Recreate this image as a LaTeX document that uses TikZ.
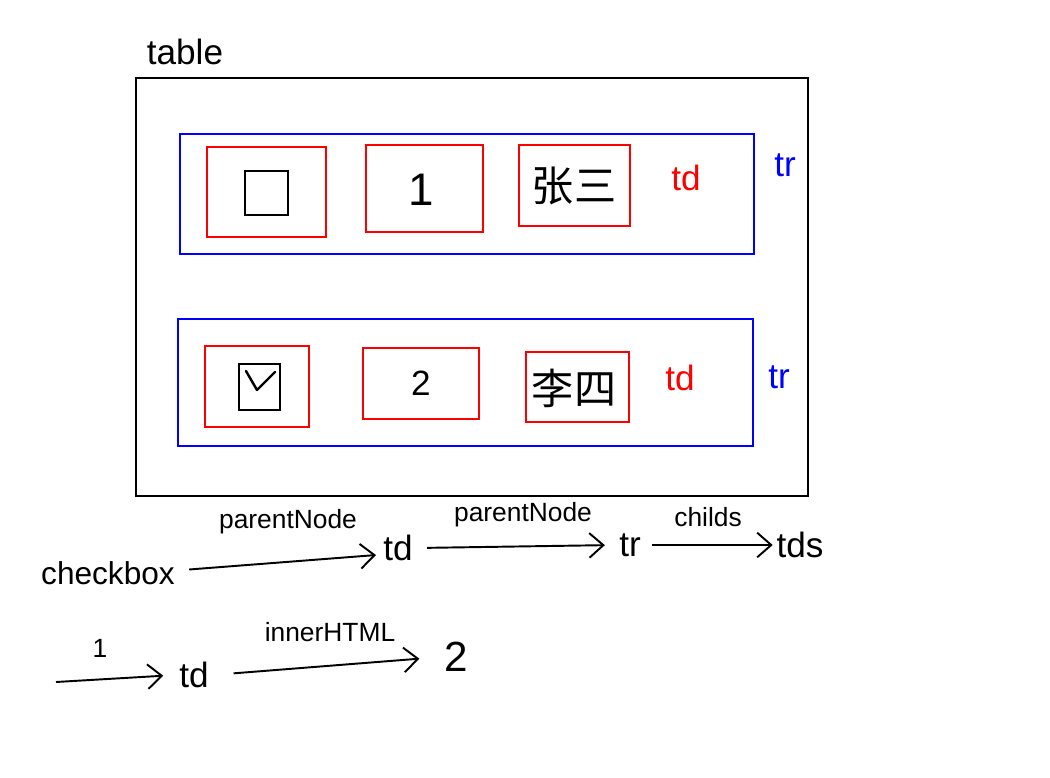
\documentclass[tikz,border=0pt]{standalone}
\usepackage{fontspec}
\setmainfont{Liberation Sans}
\newfontfamily\cjk{Noto Sans CJK SC}
\usetikzlibrary{arrows.meta,fit}
\begin{document}
\begin{tikzpicture}[x=0.02cm,y=-0.02cm,
  outerbox/.style={draw=black,line width=0.6pt,inner sep=0pt},
  rowbox/.style={draw=blue,line width=0.6pt,inner sep=0pt},
  cellbox/.style={draw=red,line width=0.6pt,inner sep=0pt},
  chkbox/.style={draw=black,line width=0.6pt,inner sep=0pt},
  word/.style={font=\fontsize{20}{22}\selectfont,inner sep=2pt},
  small/.style={font=\fontsize{15}{17}\selectfont,inner sep=2pt},
  redword/.style={word,text=red},
  blueword/.style={word,text=blue},
  arr/.style={line width=1.1pt,-{Straight Barb[length=8pt,width=14pt,line width=1.1pt]}}
]
\useasboundingbox (0,0) rectangle (1050,777);
\fill[white] (0,0) rectangle (1050,777);

% table
\node[word] (tablelbl) at (185,52) {table};
\node[outerbox,fit={(136,78) (808,496)}] (table) {};

% row 1
\node[rowbox,fit={(180,134) (754,254)}] (tr1) {};
\node[cellbox,fit={(207,147) (326,237)}] (td11) {};
\node[chkbox,fit={(245,171) (288,215)}] (cb1) {};
\node[cellbox,fit={(366,145) (483,232)}] (td12) {};
\node[font=\fontsize{26}{28}\selectfont] (one) at (421,190) {1};
\node[cellbox,fit={(519,145) (630,226)}] (td13) {};
\node[font=\cjk\fontsize{24}{26}\selectfont] (zs) at (574,186) {张三};
\node[redword] (tdlbl1) at (686,178) {td};
\node[blueword] (trlbl1) at (785,165) {tr};

% row 2
\node[rowbox,fit={(178,319) (753,446)}] (tr2) {};
\node[cellbox,fit={(205,346) (309,427)}] (td21) {};
\node[chkbox,fit={(239,364) (280,410)}] (cb2) {};
\draw[line width=1.4pt,line cap=round,line join=round] (246,371) -- (257,390) -- (275,372);
\node[cellbox,fit={(363,348) (479,419)}] (td22) {};
\node[font=\fontsize{20}{22}\selectfont] (two) at (421,383) {2};
\node[cellbox,fit={(526,352) (629,422)}] (td23) {};
\node[font=\cjk\fontsize{24}{26}\selectfont] (ls) at (574,388) {李四};
\node[redword] (tdlbl2) at (680,378) {td};
\node[blueword] (trlbl2) at (779,377) {tr};

% bottom chain 1
\node[font=\fontsize{18}{20}\selectfont,inner sep=2pt] (chk) at (108,573) {checkbox};
\node[word] (tdA) at (398,548) {td};
\node[word] (trA) at (630,545) {tr};
\node[word] (tds) at (800,545) {tds};
\draw[arr] ([xshift=6pt,yshift=2pt]chk.east) -- ([xshift=-2pt,yshift=-4pt]tdA.west);
\draw[arr,shorten <=6pt,shorten >=6pt] (tdA.east) -- (trA.west);
\draw[arr,shorten <=4pt] (trA.east) -- (tds.west);
\node[small] (pn1) at (288,522) {parentNode};
\node[small] (pn2) at (523,515) {parentNode};
\node[small] (childs) at (708,517) {childs};

% bottom chain 2
\coordinate (start) at (56,682);
\node[word] (tdB) at (194,675) {td};
\node[font=\fontsize{24}{26}\selectfont,inner sep=2pt] (twoB) at (456,657) {2};
\draw[arr,shorten >=7pt] (start) -- (tdB.west);
\draw[arr,shorten <=12pt,shorten >=12pt] (tdB.east) -- (twoB.west);
\node[small] (onelbl) at (100,648) {1};
\node[small] (inner) at (330,632) {innerHTML};
\end{tikzpicture}
\end{document}
